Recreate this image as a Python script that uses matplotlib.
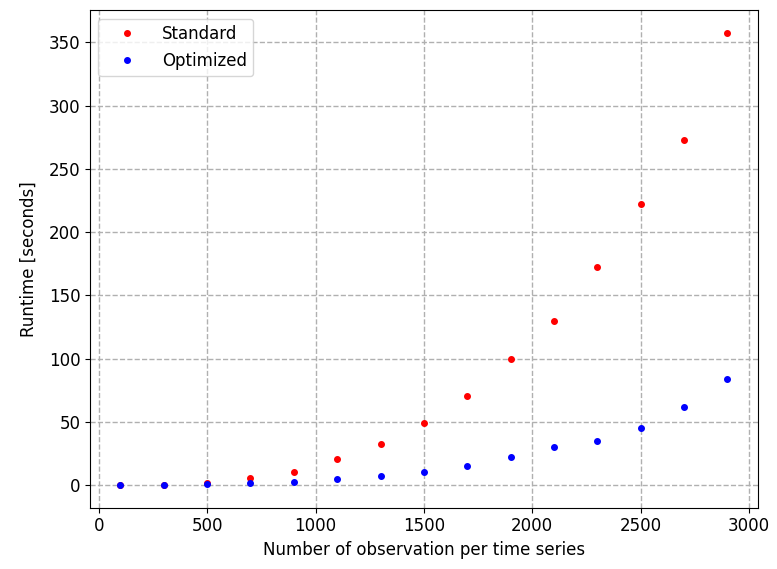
import matplotlib
matplotlib.use('Agg')
import matplotlib.pyplot as plt

n_obs = [100, 300, 500, 700, 900, 1100, 1300, 1500, 1700, 1900, 2100, 2300, 2500, 2700, 2900]
standard = [0.1, 0.3, 1.5, 5.3, 10.5, 20.3, 32.5, 49.3, 70.5, 99.5, 130, 172, 222.5, 272.5, 357.5]
optimized = [0.05, 0.1, 0.5, 1.3, 2.6, 4.5, 7.1, 10.5, 15, 22, 30, 35, 45, 61.5, 84]

plt.rcParams['font.size'] = 12

fig, ax = plt.subplots(figsize=(7.77, 5.69), dpi=100)
fig.subplots_adjust(left=0.116, right=0.975, bottom=0.108, top=0.982)

ax.plot(n_obs, standard, 'o', color='red', markersize=4, label='Standard')
ax.plot(n_obs, optimized, 'o', color='blue', markersize=4, label='Optimized')

ax.grid(True, linestyle='--', color='#b0b0b0', linewidth=1.0)
ax.set_axisbelow(True)
ax.set_xlabel('Number of observation per time series')
ax.set_ylabel('Runtime [seconds]', labelpad=8)
ax.legend(loc='upper left', handlelength=2.6)

fig.savefig('out.png', dpi=100)
